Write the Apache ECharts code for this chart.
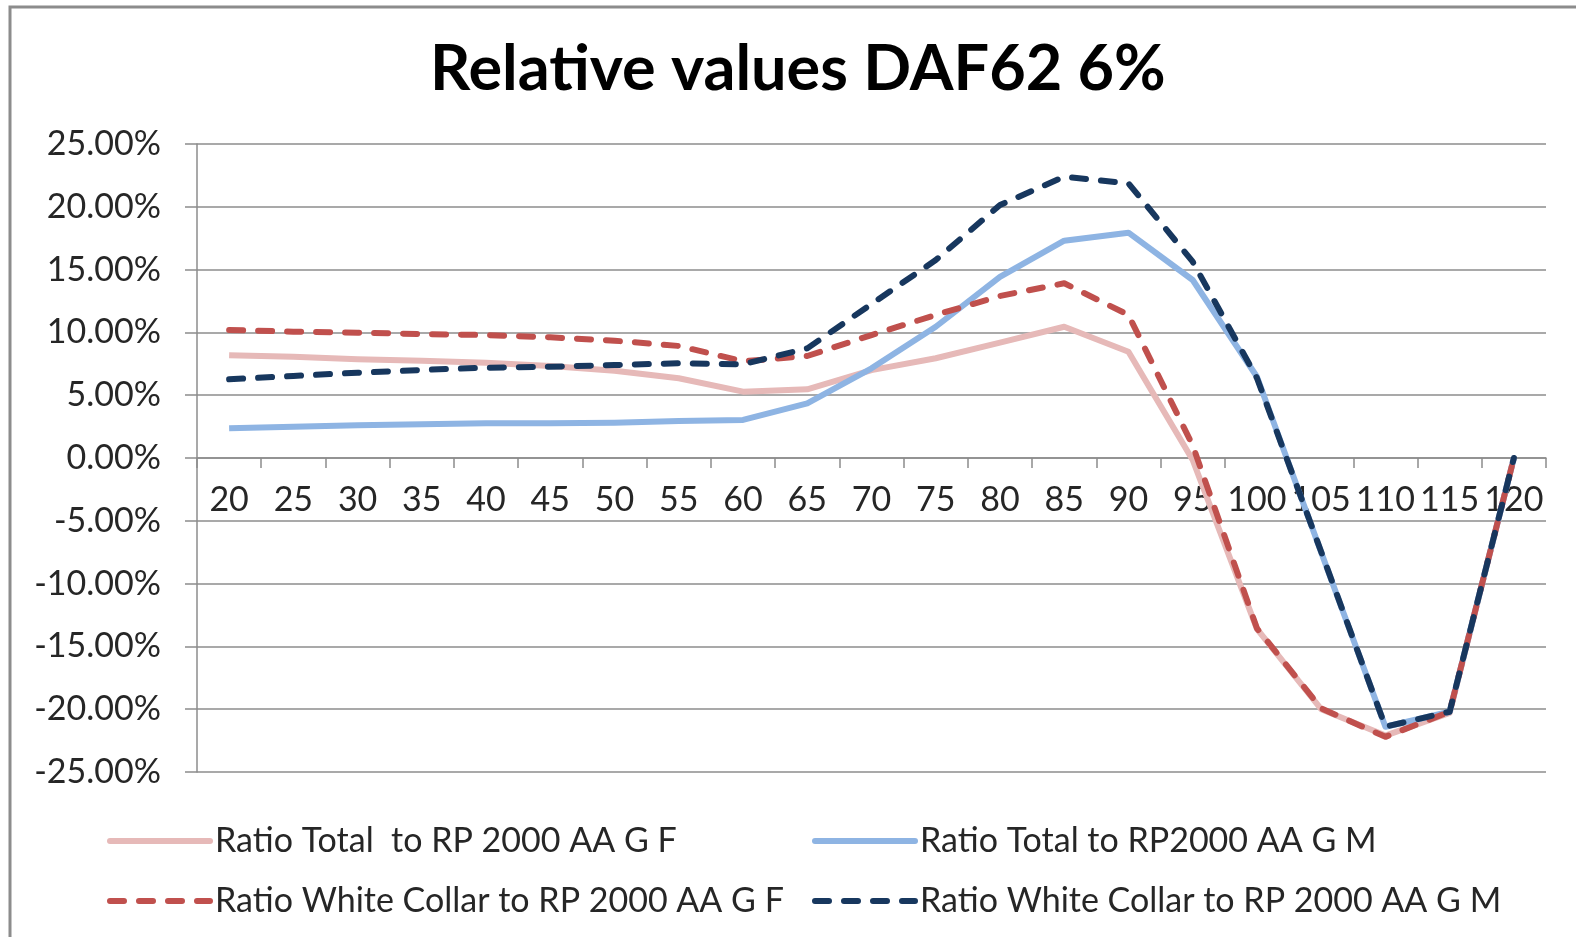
<!DOCTYPE html>
<html>
<head>
<meta charset="utf-8">
<script src="https://cdn.jsdelivr.net/npm/echarts@6/dist/echarts.min.js"></script>
<style>
  html, body { margin: 0; padding: 0; background: #fff; }
  #container { width: 1576px; height: 937px; }
</style>
</head>
<body>
<div id="container"></div>
<script>
var dom = document.getElementById('container');
var myChart = echarts.init(dom, null, { renderer: 'canvas' });

// ages on the x axis
var ages = ['20', '25', '30', '35', '40', '45', '50', '55', '60', '65', '70',
            '75', '80', '85', '90', '95', '100', '105', '110', '115', '120'];

// values in percent
var totalF = [8.18, 8.07, 7.86, 7.75, 7.59, 7.32, 6.95, 6.35, 5.28, 5.47, 7.0,
              7.94, 9.18, 10.45, 8.46, -0.16, -13.6, -20.0, -22.1, -20.3, 0];
var totalM = [2.36, 2.49, 2.6, 2.68, 2.76, 2.76, 2.81, 2.95, 3.03, 4.35, 7.14,
              10.45, 14.43, 17.3, 17.94, 14.17, 6.47, -7.5, -21.4, -20.2, 0];
var whiteF = [10.19, 10.06, 9.98, 9.87, 9.79, 9.61, 9.34, 8.92, 7.7, 8.12, 9.79,
              11.39, 12.9, 13.91, 11.39, 1.0, -13.56, -19.93, -22.2, -20.2, 0];
var whiteM = [6.27, 6.53, 6.79, 7.01, 7.19, 7.27, 7.4, 7.54, 7.46, 8.73, 12.26,
              15.76, 20.14, 22.4, 21.87, 15.63, 6.37, -7.46, -21.39, -20.2, 0];

var names = ['Ratio Total  to RP 2000 AA G F', 'Ratio Total to RP2000 AA G M',
             'Ratio White Collar to RP 2000 AA G F', 'Ratio White Collar to RP 2000 AA G M'];

var fontName = 'Lato';
var txtColor = '#262626';
var gridColor = '#8c8c8c';
var dashPat = [14, 15];

function mkSeries(name, data, color, dashed, z) {
    return {
        name: name,
        type: 'line',
        data: data,
        symbol: 'none',
        z: z,
        lineStyle: {
            color: color,
            width: 6,
            type: dashed ? dashPat : 'solid',
            cap: dashed ? 'round' : 'butt',
            join: 'round'
        },
        itemStyle: { color: color }
    };
}

var legendText = { fontFamily: fontName, fontSize: 34, color: txtColor };

function mkLegend(left, items) {
    return {
        orient: 'vertical',
        left: left,
        top: 824,
        padding: 0,
        itemWidth: 100,
        itemHeight: 30,
        itemGap: 26,
        data: items,
        textStyle: legendText,
        itemStyle: { opacity: 0 },
        lineStyle: { width: 6, cap: 'round' }
    };
}

var option = {
    backgroundColor: '#fff',
    animation: false,
    title: {
        text: 'Relative values DAF62 6%',
        left: 430,
        top: 38,
        padding: 0,
        textStyle: { fontFamily: fontName, fontSize: 63, fontWeight: 'bold', color: '#000' }
    },
    graphic: [{
        type: 'rect',
        shape: { x: 10, y: 7, width: 1700, height: 1100 },
        style: { fill: 'none', stroke: '#8c8c8c', lineWidth: 3 },
        silent: true
    }],
    legend: [mkLegend(107, [names[0], names[2]]), mkLegend(812, [names[1], names[3]])],
    grid: { left: 197, right: 30, top: 144, bottom: 165, containLabel: false },
    xAxis: {
        type: 'category',
        data: ages,
        boundaryGap: true,
        offset: -314,
        axisLine: { onZero: false, lineStyle: { color: gridColor, width: 1.5 } },
        axisTick: { show: true, interval: 0, length: 10, lineStyle: { color: gridColor, width: 1.5 } },
        axisLabel: { interval: 0, margin: 25, fontFamily: fontName, fontSize: 34, color: txtColor },
        splitLine: { show: false }
    },
    yAxis: {
        type: 'value',
        min: -25,
        max: 25,
        interval: 5,
        axisLine: { show: true, onZero: false, lineStyle: { color: gridColor, width: 1.5 } },
        axisTick: { show: true, inside: false, length: 12, lineStyle: { color: gridColor, width: 1.5 } },
        axisLabel: {
            margin: 36,
            fontFamily: fontName, fontSize: 34, color: txtColor,
            formatter: function (v) { return v.toFixed(2) + '%'; }
        },
        splitLine: { show: true, lineStyle: { color: gridColor, width: 1.5 } }
    },
    series: [
        mkSeries(names[0], totalF, '#E6B9B8', false, 2),
        mkSeries(names[1], totalM, '#8EB4E3', false, 3),
        mkSeries(names[2], whiteF, '#C0504D', true, 4),
        mkSeries(names[3], whiteM, '#17375E', true, 5)
    ]
};

myChart.setOption(option);
</script>
</body>
</html>
